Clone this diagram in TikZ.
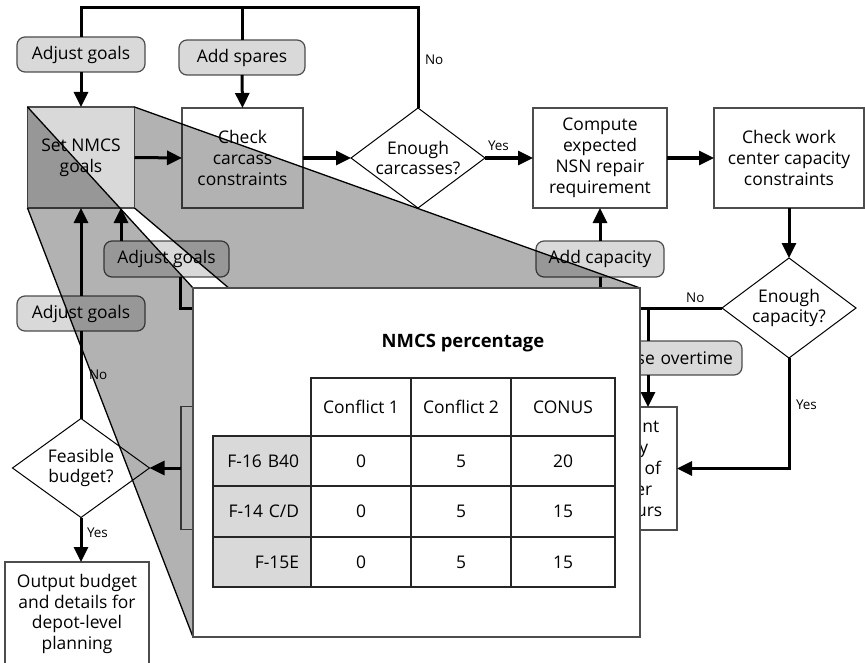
\documentclass[tikz,border=0pt]{standalone}
\usepackage{fontspec}
\setmainfont{Open Sans}
\usetikzlibrary{arrows.meta,shapes.geometric}
\definecolor{boxgray}{HTML}{D9D9D9}
\definecolor{edgegray}{HTML}{4D4D4D}
\tikzset{
  every node/.style={font=\fontsize{17.5}{21}\selectfont, inner sep=0pt, outer sep=0pt, text=black},
  procbox/.style={draw=edgegray, line width=1.2bp, fill=white, align=center},
  goalbox/.style={procbox, fill=boxgray},
  actbox/.style={draw=edgegray, line width=1.2bp, fill=boxgray, rounded corners=8bp, align=center},
  decision/.style={diamond, draw=black, line width=1bp, fill=white},
  flow/.style={line width=3bp},
  arr/.style={flow, -{Triangle[length=15bp,width=14bp]}},
  lbl/.style={font=\fontsize{13.5}{16}\selectfont},
  face/.style={fill=black, fill opacity=0.3},
  ray/.style={line width=1.3bp, black},
  cellbox/.style={draw=black!85, line width=1.2bp, fill=white, align=center},
  rowhead/.style={cellbox, fill=boxgray, minimum height=50bp, text width=74bp, align=right, inner xsep=12bp},
}
\begin{document}
\begin{tikzpicture}[x=1bp,y=-1bp]
\useasboundingbox (0,0) rectangle (865,663);

% ---------- process boxes ----------
\node[actbox, minimum width=128bp, minimum height=35bp] (adj1) at (81,54.5) {Adjust goals};
\node[actbox, minimum width=126bp, minimum height=35bp] (spares) at (242,57.5) {Add spares};
\node[goalbox, minimum width=107bp, minimum height=101bp] (setg) at (81,157.5) {Set NMCS\\goals};
\node[procbox, minimum width=121bp, minimum height=100bp] (check) at (242.5,158) {Check\\carcass\\constraints};
\node[decision, minimum width=134bp, minimum height=100bp,
      label={[align=center]center:Enough\\carcasses?}] (carc) at (418,158) {};
\node[procbox, minimum width=134bp, minimum height=100bp] (comp) at (600,158) {Compute\\expected\\NSN repair\\requirement};
\node[procbox, minimum width=150bp, minimum height=100bp] (work) at (789,158) {Check work\\center capacity\\constraints};
\node[decision, minimum width=134bp, minimum height=100bp,
      label={[align=center]center:Enough\\capacity?}] (cap) at (789,308) {};
\node[actbox, minimum width=128bp, minimum height=36bp] (addcap) at (600,259) {Add capacity};
\node[actbox, minimum width=125bp, minimum height=36bp] (adj2) at (166.5,259) {Adjust goals};
\node[actbox, minimum width=128bp, minimum height=35bp] (adj3) at (81,313.5) {Adjust goals};
\node[actbox, minimum width=182bp, minimum height=34bp, text width=164bp, align=right, inner xsep=9bp] (over) at (651,358) {Use overtime};
\node[procbox, minimum width=77bp, minimum height=123bp] (rbox) at (638.5,468.5) {Paint\\by\\set of\\per\\hours};
\node[procbox, minimum width=140bp, minimum height=123bp] (lbox) at (251,468) {};
\node[decision, minimum width=137bp, minimum height=99bp,
      label={[align=center]center:Feasible\\budget?}] (feas) at (81,468) {};
\node[procbox, minimum width=144bp, minimum height=104bp, anchor=north] (out) at (77,562) {Output budget\\and details for\\depot-level\\planning};

% ---------- junctions ----------
\coordinate (tl) at (81,8);
\coordinate (tm) at (242,8);
\coordinate (tr) at (418,8);
\coordinate (j1) at (648,308);
\coordinate (j2) at (600,308);
\coordinate (j3) at (180,308);
\coordinate (a2x) at (121,0);

% ---------- connectors ----------
\draw[flow] (carc.north) -- node[lbl, pos=0.48, right=7bp] {No} (tr) -- (tl) -- (adj1.north);
\draw[flow] (tm) -- (spares.north);
\draw[arr] (adj1.south) -- (setg.north);
\draw[arr] (spares.south) -- (check.north);
\draw[arr] (setg.east) -- (check.west);
\draw[arr] (check.east) -- (carc.west);
\draw[arr] (carc.east) -- node[lbl, pos=0.28, above=7bp] {Yes} (comp.west);
\draw[arr] (comp.east) -- (work.west);
\draw[arr] (work.south) -- (cap.north);
\draw[flow] (cap.west) -- node[lbl, pos=0.36, above=5bp] {No} (j1) -- (j2) -- (j3) -- (j3 |- adj2.south);
\draw[arr] (a2x |- adj2.north) -- (a2x |- setg.south);
\draw[flow] (j2) -- (addcap.south);
\draw[arr] (addcap.north) -- (comp.south);
\draw[flow] (j1) -- (j1 |- over.north);
\draw[arr] (j1 |- over.south) -- (j1 |- rbox.north);
\draw[arr] (cap.south) |- node[lbl, pos=0.21, right=7bp] {Yes} (rbox.east);
\draw[arr] (lbox.west) -- (feas.east);
\draw[flow] (feas.north) -- node[lbl, pos=0.5, right=8bp] {No} (adj3.south);
\draw[arr] (adj3.north) -- (setg.south);
\draw[arr] (feas.south) -- node[lbl, pos=0.34, right=6bp] {Yes} (feas.south |- out.north);

% ---------- magnifier faces ----------
\coordinate (pnw) at (193,288);
\coordinate (pne) at (640,288);
\coordinate (psw) at (193,637);
\coordinate (pse) at (640,637);
\fill[face] (setg.north west) -- (pnw) -- (psw) -- (setg.south west) -- cycle;
\fill[face] (setg.north east) -- (pne) -- (pse) -- (setg.south east) -- cycle;
\draw[ray] (setg.north west) -- (pnw);
\draw[ray] (setg.north east) -- (pne);
\draw[ray] (setg.south west) -- (psw);
\draw[ray] (setg.south east) -- (pse);

% ---------- enlarged panel ----------
\node[draw=edgegray, line width=1.3bp, fill=white, minimum width=447bp, minimum height=349bp] (panel) at (416.5,462.5) {};
\node[font=\bfseries\fontsize{18.5}{22}\selectfont] (ttl) at (463,343) {NMCS percentage};

\node[cellbox, minimum width=100bp, minimum height=58bp] (h1) at (361,407) {Conflict 1};
\node[cellbox, minimum width=100bp, minimum height=58bp] (h2) at (461,407) {Conflict 2};
\node[cellbox, minimum width=104bp, minimum height=58bp] (h3) at (563,407) {CONUS};

\node[rowhead] (r1) at (262,461) {F-16 B40};
\node[rowhead, minimum height=51bp] (r2) at (262,511.5) {F-14 C/D};
\node[rowhead] (r3) at (262,562) {F-15E};

\node[cellbox, minimum width=100bp, minimum height=50bp] (c11) at (361,461) {0};
\node[cellbox, minimum width=100bp, minimum height=50bp] (c12) at (461,461) {5};
\node[cellbox, minimum width=104bp, minimum height=50bp] (c13) at (563,461) {20};
\node[cellbox, minimum width=100bp, minimum height=51bp] (c21) at (361,511.5) {0};
\node[cellbox, minimum width=100bp, minimum height=51bp] (c22) at (461,511.5) {5};
\node[cellbox, minimum width=104bp, minimum height=51bp] (c23) at (563,511.5) {15};
\node[cellbox, minimum width=100bp, minimum height=50bp] (c31) at (361,562) {0};
\node[cellbox, minimum width=100bp, minimum height=50bp] (c32) at (461,562) {5};
\node[cellbox, minimum width=104bp, minimum height=50bp] (c33) at (563,562) {15};
\end{tikzpicture}
\end{document}
